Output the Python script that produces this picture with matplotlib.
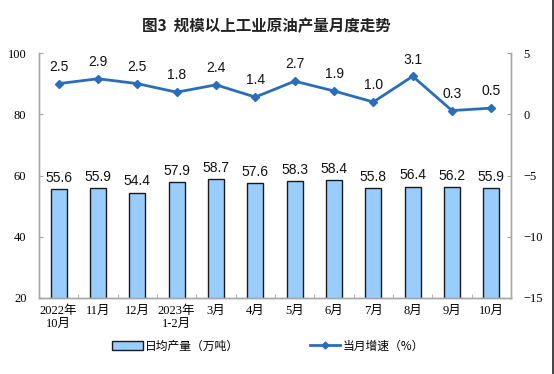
import matplotlib
matplotlib.use("Agg")
import matplotlib.pyplot as plt
from matplotlib.lines import Line2D
from matplotlib.patches import Patch
import numpy as np

plt.rcParams['font.family'] = ['Noto Sans CJK SC', 'DejaVu Sans']

categories = ["2022年\n10月", "11月", "12月", "2023年\n1-2月", "3月", "4月",
              "5月", "6月", "7月", "8月", "9月", "10月"]
daily_output = [55.6, 55.9, 54.4, 57.9, 58.7, 57.6, 58.3, 58.4, 55.8, 56.4, 56.2, 55.9]
growth = [2.5, 2.9, 2.5, 1.8, 2.4, 1.4, 2.7, 1.9, 1.0, 3.1, 0.3, 0.5]
left_ticks = [20, 40, 60, 80, 100]
right_ticks = [-15, -10, -5, 0, 5]

W, H = 554, 374
fig = plt.figure(figsize=(W / 100, H / 100), dpi=100)
ax = fig.add_axes([39 / W, 1 - 298 / H, (511 - 39) / W, (298 - 53) / H])
ax2 = ax.twinx()

x = np.arange(len(categories))
bar_color = '#99CCFF'
line_color = '#2A6EBB'
spine_color = '#A6A6A6'
num_font = ['Liberation Serif', 'Noto Sans CJK SC']
lab_font = ['Liberation Sans', 'DejaVu Sans']

bars = ax.bar(x, daily_output, width=0.41, color=bar_color, edgecolor='#1a1a1a',
              linewidth=1.0, zorder=2)
for xi, v in zip(x, daily_output):
    ax.annotate(f"{v:.1f}", (xi, v), xytext=(0, 3), textcoords='offset points',
                ha='center', va='bottom', fontsize=10, family=lab_font, color='#111111')

ax.set_xlim(-0.5, len(categories) - 0.5)
ax.set_ylim(20, 100)
ax.set_yticks(left_ticks)
ax2.set_ylim(-15, 5)
ax2.set_yticks(right_ticks)

ax2.plot(x, growth, color=line_color, linewidth=2.0, marker='D', markersize=4.5,
         markerfacecolor=line_color, markeredgecolor=line_color, zorder=3)
for xi, v in zip(x, growth):
    ax2.annotate(f"{v:.1f}", (xi, v), xytext=(0, 7), textcoords='offset points',
                 ha='center', va='bottom', fontsize=10, family=lab_font, color='#111111')

for a in (ax, ax2):
    a.spines['top'].set_visible(False)
    for s in ('left', 'right', 'bottom'):
        a.spines[s].set_color(spine_color)
        a.spines[s].set_linewidth(1.0)
    a.patch.set_visible(False)

ax.tick_params(axis='y', direction='in', length=3, color=spine_color, pad=9,
               labelsize=9)
ax2.tick_params(axis='y', direction='in', length=3, color=spine_color, pad=9,
                labelsize=9)
for lab in ax.get_yticklabels() + ax2.get_yticklabels():
    lab.set_family(num_font)

ax.set_xticks(x)
ax.set_xticklabels(categories, fontsize=9, linespacing=1.1)
for lab in ax.get_xticklabels():
    lab.set_family(num_font)
ax.tick_params(axis='x', length=0, pad=5)
ax.set_xticks(np.arange(-0.5, len(categories), 1), minor=True)
ax.tick_params(axis='x', which='minor', direction='in', length=3, color=spine_color)

fig.text(266 / W, 1 - 26 / H, "图3  规模以上工业原油产量月度走势", ha='center', va='center',
         fontsize=11.2, fontweight='bold', color='#222222')

handles = [Patch(facecolor=bar_color, edgecolor='#1a1a1a', linewidth=1.0),
           Line2D([0], [0], color=line_color, linewidth=2.0, marker='D',
                  markersize=3.5)]
fig.legend(handles, ["日均产量（万吨）", "当月增速（%）"], loc='center',
           bbox_to_anchor=(268 / W, 1 - 346 / H), ncol=2, frameon=False,
           fontsize=8.5, columnspacing=6, handlelength=2.6, handletextpad=0.2,
           handleheight=0.7)

fig.add_artist(Line2D([552.5 / W, 552.5 / W], [0, 1], color='#222222', linewidth=1.2,
                      transform=fig.transFigure))

fig.savefig("out.png", dpi=100)
